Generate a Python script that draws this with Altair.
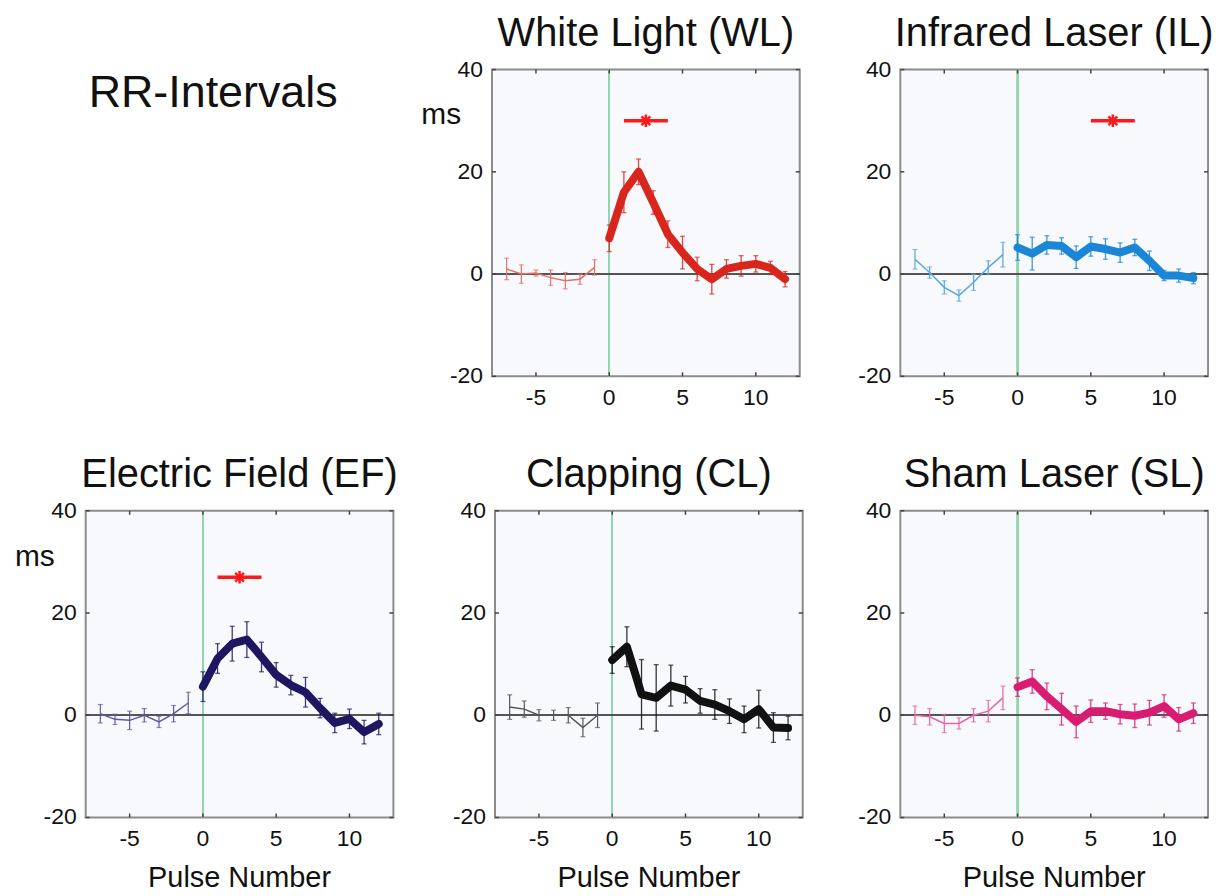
import altair as alt
import pandas as pd

FONT = "Liberation Sans"

PRE_PULSES = [-7, -6, -5, -4, -3, -2, -1]
POST_PULSES = [0, 1, 2, 3, 4, 5, 6, 7, 8, 9, 10, 11, 12]
X_TICKS = [-5, 0, 5, 10]
Y_TICKS = [-20, 0, 20, 40]
X_DOMAIN = [-8, 13]
Y_DOMAIN = [-20, 40]

# White Light (WL)
WL_PRE = [1.0, 0.0, 0.2, -0.7, -1.3, -1.0, 1.3]
WL_PRE_ERR = [2.1, 1.8, 0.6, 1.5, 1.6, 1.0, 1.5]
WL_POST = [7.0, 16.0, 20.0, 14.0, 7.8, 4.2, 1.0, -1.0, 1.0, 1.6, 2.0, 1.2, -1.0]
WL_POST_ERR = [2.6, 4.0, 2.5, 2.3, 2.6, 3.2, 2.3, 2.9, 1.8, 2.0, 1.6, 1.3, 1.5]
WL_SIG = [1, 4, 2.5, 30]

# Infrared Laser (IL)
IL_PRE = [2.9, 0.3, -2.6, -4.2, -1.6, 1.3, 3.8]
IL_PRE_ERR = [1.9, 1.1, 1.3, 1.1, 1.6, 1.3, 2.4]
IL_POST = [5.2, 4.0, 5.7, 5.5, 3.3, 5.4, 4.9, 4.2, 5.2, 2.6, -0.3, -0.3, -0.8]
IL_POST_ERR = [2.5, 3.2, 1.8, 1.6, 2.2, 1.9, 2.0, 1.9, 1.6, 1.9, 1.0, 1.3, 1.1]
IL_SIG = [5, 8, 6.5, 30]

# Electric Field (EF)
EF_PRE = [0.3, -0.8, -1.0, 0.0, -1.3, 0.3, 2.4]
EF_PRE_ERR = [1.8, 1.0, 1.8, 1.3, 1.1, 1.6, 2.1]
EF_POST = [5.6, 11.1, 14.0, 14.8, 11.4, 7.9, 5.9, 4.5, 1.4, -1.5, -0.7, -3.3, -1.7]
EF_POST_ERR = [2.9, 2.9, 3.4, 3.5, 2.9, 2.4, 1.9, 2.9, 1.9, 1.9, 1.9, 2.3, 2.1]
EF_SIG = [1, 4, 2.5, 27]

# Clapping (CL)
CL_PRE = [1.6, 1.2, 0.0, 0.0, 0.0, -2.4, 0.0]
CL_PRE_ERR = [2.4, 1.6, 1.1, 1.0, 1.5, 1.8, 2.4]
CL_POST = [10.8, 13.4, 4.1, 3.4, 5.8, 5.0, 2.8, 2.1, 0.8, -0.8, 1.2, -2.4, -2.5]
CL_POST_ERR = [2.6, 3.9, 6.8, 6.5, 4.0, 2.6, 2.4, 2.9, 2.4, 2.6, 3.7, 2.9, 2.3]

# Sham Laser (SL)
SL_PRE = [0.0, -0.3, -1.6, -1.6, 0.0, 0.8, 3.4]
SL_PRE_ERR = [1.8, 1.6, 1.8, 1.1, 1.3, 2.1, 2.3]
SL_POST = [5.5, 6.6, 3.7, 1.2, -1.3, 0.8, 0.8, 0.2, -0.1, 0.5, 1.8, -0.8, 0.4]
SL_POST_ERR = [1.8, 2.3, 2.6, 3.1, 3.1, 2.2, 1.6, 1.9, 2.3, 2.4, 2.2, 2.3, 2.0]

W, H = 309, 308
XS = alt.Scale(domain=X_DOMAIN, nice=False, zero=False)
YS = alt.Scale(domain=Y_DOMAIN, nice=False, zero=False)

STAR = "M-1,0L1,0M0,-1L0,1M-0.7,-0.7L0.7,0.7M-0.7,0.7L0.7,-0.7"
TICK_COLOR = "#444444"
TEXT_COLOR = "#111111"


def frame(pulses, vals, errs):
    return pd.DataFrame({
        "pulse": pulses,
        "v": vals,
        "lo": [v - e for v, e in zip(vals, errs)],
        "hi": [v + e for v, e in zip(vals, errs)],
    })


def qx(field):
    return alt.X(field, scale=XS, axis=None)


def qy(field):
    return alt.Y(field, scale=YS, axis=None)


def panel(title, pre, pre_err, post, post_err, c_post, c_pre, sig=None, ms=False, xtitle=False):
    pre_df = frame(PRE_PULSES, pre, pre_err)
    post_df = frame(POST_PULSES, post, post_err)
    xt_df = pd.DataFrame({"t": X_TICKS, "s": [str(v) for v in X_TICKS]})
    yt_df = pd.DataFrame({"t": Y_TICKS, "s": [str(v) for v in Y_TICKS]})
    name_df = pd.DataFrame({"ms": ["ms"], "xt": ["Pulse Number"]})

    # reference lines
    green = alt.Chart(pre_df).mark_rule(color="#8fd6ad", strokeWidth=1.5).encode(
        x=alt.XDatum(0, scale=XS, axis=None))
    zero = alt.Chart(pre_df).mark_rule(color="#555555", strokeWidth=1.5).encode(
        y=alt.YDatum(0, scale=YS, axis=None))

    # inward ticks on all four sides
    top_ticks = alt.Chart(xt_df).mark_rule(color=TICK_COLOR, strokeWidth=1.5).encode(
        x=qx("t:Q"), y=alt.value(0), y2=alt.value(4))
    bottom_ticks = alt.Chart(xt_df).mark_rule(color=TICK_COLOR, strokeWidth=1.5).encode(
        x=qx("t:Q"), y=alt.value(H - 4), y2=alt.value(H))
    left_ticks = alt.Chart(yt_df).mark_rule(color=TICK_COLOR, strokeWidth=1.5).encode(
        y=qy("t:Q"), x=alt.value(0), x2=alt.value(4))
    right_ticks = alt.Chart(yt_df).mark_rule(color=TICK_COLOR, strokeWidth=1.5).encode(
        y=qy("t:Q"), x=alt.value(W - 4), x2=alt.value(W))

    # tick labels and axis titles
    x_labels = alt.Chart(xt_df).mark_text(
        baseline="top", align="center", fontSize=23, font=FONT, color=TEXT_COLOR
    ).encode(x=qx("t:Q"), y=alt.value(H + 11), text="s:N")
    y_labels = alt.Chart(yt_df).mark_text(
        baseline="middle", align="right", fontSize=23, font=FONT, color=TEXT_COLOR
    ).encode(y=qy("t:Q"), x=alt.value(-9), text="s:N")
    ms_label = alt.Chart(name_df).mark_text(
        baseline="middle", align="center", fontSize=30, font=FONT, color=TEXT_COLOR,
        opacity=1 if ms else 0
    ).encode(x=alt.value(-51), y=alt.value(46), text="ms:N")

    pre_err_r = alt.Chart(pre_df).mark_rule(color=c_pre, strokeWidth=1.2).encode(
        x=qx("pulse:Q"), y=qy("lo:Q"), y2="hi:Q")
    pre_cap_lo = alt.Chart(pre_df).mark_tick(color=c_pre, orient="horizontal", size=5,
                                             thickness=1.2).encode(x=qx("pulse:Q"), y=qy("lo:Q"))
    pre_cap_hi = alt.Chart(pre_df).mark_tick(color=c_pre, orient="horizontal", size=5,
                                             thickness=1.2).encode(x=qx("pulse:Q"), y=qy("hi:Q"))
    pre_line = alt.Chart(pre_df).mark_line(color=c_pre, strokeWidth=1.5).encode(
        x=qx("pulse:Q"), y=qy("v:Q"))

    post_err_r = alt.Chart(post_df).mark_rule(color=c_post, strokeWidth=1.3, opacity=0.85).encode(
        x=qx("pulse:Q"), y=qy("lo:Q"), y2="hi:Q")
    post_cap_lo = alt.Chart(post_df).mark_tick(color=c_post, orient="horizontal", size=5,
                                               thickness=1.3).encode(x=qx("pulse:Q"), y=qy("lo:Q"))
    post_cap_hi = alt.Chart(post_df).mark_tick(color=c_post, orient="horizontal", size=5,
                                               thickness=1.3).encode(x=qx("pulse:Q"), y=qy("hi:Q"))
    post_line = alt.Chart(post_df).mark_line(color=c_post, strokeWidth=8, strokeCap="round",
                                             strokeJoin="round").encode(
        x=qx("pulse:Q"), y=qy("v:Q"))

    layers = [green, zero, top_ticks, bottom_ticks, left_ticks, right_ticks,
              x_labels, y_labels, ms_label,
              pre_err_r, pre_cap_lo, pre_cap_hi, pre_line,
              post_err_r, post_cap_lo, post_cap_hi, post_line]

    if xtitle:
        layers.append(alt.Chart(name_df).mark_text(
            baseline="alphabetic", align="center", fontSize=29, font=FONT, color=TEXT_COLOR
        ).encode(x=alt.value(W / 2), y=alt.value(H + 70), text="xt:N"))

    if sig is not None:
        sig_df = pd.DataFrame({"a": [sig[0]], "b": [sig[1]], "c": [sig[2]], "y": [sig[3]]})
        sig_line = alt.Chart(sig_df).mark_rule(color="#ff1a1a", strokeWidth=3.5).encode(
            x=qx("a:Q"), x2="b:Q", y=qy("y:Q"))
        sig_star = alt.Chart(sig_df).mark_point(shape=STAR, color="#ff1a1a", strokeWidth=2.5,
                                                size=160, filled=False, opacity=1).encode(
            x=qx("c:Q"), y=qy("y:Q"))
        layers += [sig_line, sig_star]

    return alt.layer(*layers).properties(
        width=W, height=H,
        view=alt.ViewBackground(fill="#f7f9fd", stroke="#8c8c8c", strokeWidth=2),
        title=alt.TitleParams(title, fontSize=40, font=FONT, fontWeight="normal",
                              color=TEXT_COLOR, anchor="middle", offset=5),
    )


label_df = pd.DataFrame({"t": ["RR-Intervals"], "ghost": ["ms"]})
rr_text = alt.Chart(label_df).mark_text(
    align="left", baseline="alphabetic", fontSize=45, font=FONT, color=TEXT_COLOR
).encode(text="t:N", x=alt.value(3), y=alt.value(38))
# invisible spacer keeping this cell's left extent equal to the panels below
ghost = alt.Chart(label_df).mark_text(
    align="center", baseline="middle", fontSize=30, font=FONT, opacity=0
).encode(text="ghost:N", x=alt.value(-51), y=alt.value(46))
top_left = alt.layer(rr_text, ghost).properties(
    width=W, height=H,
    view=alt.ViewBackground(fill="transparent", stroke="transparent", strokeWidth=0),
)

wl = panel("White Light (WL)", WL_PRE, WL_PRE_ERR, WL_POST, WL_POST_ERR,
           "#d9261c", "#e2716a", sig=WL_SIG, ms=True)
il = panel("Infrared Laser (IL)", IL_PRE, IL_PRE_ERR, IL_POST, IL_POST_ERR,
           "#1b86d6", "#55a6e3", sig=IL_SIG)
ef = panel("Electric Field (EF)", EF_PRE, EF_PRE_ERR, EF_POST, EF_POST_ERR,
           "#1d1660", "#5f5aa6", sig=EF_SIG, ms=True, xtitle=True)
cl = panel("Clapping (CL)", CL_PRE, CL_PRE_ERR, CL_POST, CL_POST_ERR,
           "#111111", "#555555", xtitle=True)
sl = panel("Sham Laser (SL)", SL_PRE, SL_PRE_ERR, SL_POST, SL_POST_ERR,
           "#d91c72", "#e566a3", xtitle=True)

row1 = alt.hconcat(top_left, wl, il, spacing=27)
row2 = alt.hconcat(ef, cl, sl, spacing=24)

chart = alt.vconcat(row1, row2, spacing=43).properties(
    padding={"left": 6, "top": 3, "right": 5, "bottom": 2}
).configure(font=FONT, background="white").configure_view(strokeWidth=0)

chart.save("out.html", embed_options={"renderer": "svg", "actions": False})
